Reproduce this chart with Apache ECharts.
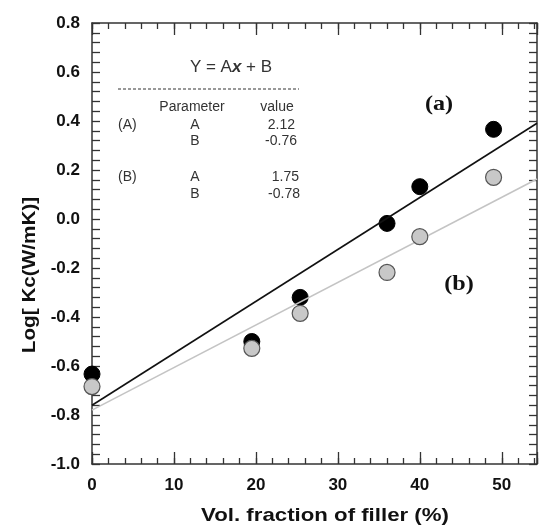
<!DOCTYPE html>
<html>
<head>
<meta charset="utf-8">
<script src="https://cdn.jsdelivr.net/npm/echarts@6/dist/echarts.min.js"></script>
<style>html,body{margin:0;padding:0;background:#fff;}#c{width:542px;height:526px;}</style>
</head>
<body>
<div id="c"></div>
<script>
// Data
const xVals = [0, 19.5, 25.4, 36.0, 40.0, 49.0];
const seriesA = [-0.633, -0.50, -0.32, -0.018, 0.132, 0.366];   // black points (a)
const seriesB = [-0.684, -0.528, -0.385, -0.218, -0.072, 0.170]; // gray points (b)
const fitAX = [0, 54.3];
const fitAY = [-0.76, 0.391];
const fitBX = [0, 54.3];
const fitBY = [-0.78, 0.163];
const xTicks = [0, 10, 20, 30, 40, 50];
const yTicks = [-1.0, -0.8, -0.6, -0.4, -0.2, 0.0, 0.2, 0.4, 0.6, 0.8];
const tableRows = [
  ['(A)', 'A', '2.12'],
  ['', 'B', '-0.76'],
  ['(B)', 'A', '1.75'],
  ['', 'B', '-0.78']
];

const pair = (xs, ys) => xs.map((x, i) => [x, ys[i]]);
const FONT = 'Liberation Sans, Arial, sans-serif';
const frame = '#333';

function xAx(pos, interval, len, showLine, showLabel) {
  return {
    type: 'value', position: pos, min: 0, max: 54.3, interval: interval,
    axisLine: { show: showLine, onZero: false, lineStyle: { color: frame, width: 1.5 } },
    axisTick: { show: true, inside: true, length: len, lineStyle: { color: frame, width: 1.3 } },
    axisLabel: {
      show: showLabel, margin: 13, color: '#111', fontSize: 17, fontWeight: 'bold', fontFamily: FONT,
      formatter: v => xTicks.indexOf(v) >= 0 ? String(v) : ''
    },
    splitLine: { show: false }
  };
}
function yAx(pos, showLabel) {
  return {
    type: 'value', position: pos, min: -1.0, max: 0.8, interval: 0.2,
    axisLine: { show: true, onZero: false, lineStyle: { color: frame, width: 1.5 } },
    axisTick: { show: true, inside: true, length: 8, lineStyle: { color: frame, width: 1.3 } },
    minorTick: { show: true, splitNumber: 5, length: 8, lineStyle: { color: frame, width: 1.3 } },
    axisLabel: {
      show: showLabel, margin: 12, color: '#111', fontSize: 17, fontWeight: 'bold', fontFamily: FONT,
      formatter: v => {
        const t = yTicks.find(k => Math.abs(k - v) < 1e-6);
        return t === undefined ? '' : t.toFixed(1);
      }
    },
    splitLine: { show: false }
  };
}

const chart = echarts.init(document.getElementById('c'), null, { renderer: 'canvas' });

const graphics = [];
// axis titles
graphics.push({
  type: 'text', x: 325, y: 516, scaleX: 1.17,
  style: { text: 'Vol. fraction of filler (%)', font: 'bold 19px ' + FONT, fill: '#111', align: 'center', verticalAlign: 'middle' }
});
graphics.push({
  type: 'text', x: 30, y: 275, rotation: Math.PI / 2, scaleX: 1.09,
  style: { text: 'Log[ Kc(W/mK)]', font: 'bold 19px ' + FONT, fill: '#111', align: 'center', verticalAlign: 'middle' }
});
// equation
graphics.push({
  type: 'text', x: 231, y: 67,
  style: {
    text: '{a|Y = A}{b|x}{a| + B}', align: 'center', verticalAlign: 'middle',
    rich: {
      a: { font: '17px ' + FONT, fill: '#333' },
      b: { font: 'italic bold 17px ' + FONT, fill: '#333' }
    }
  }
});
graphics.push({
  type: 'line', shape: { x1: 118, y1: 89, x2: 299, y2: 89 },
  style: { stroke: '#333', lineWidth: 1, lineDash: [3, 2] }
});
graphics.push({ type: 'text', x: 192, y: 107, style: { text: 'Parameter', font: '14px ' + FONT, fill: '#333', align: 'center', verticalAlign: 'middle' } });
graphics.push({ type: 'text', x: 277, y: 107, style: { text: 'value', font: '14px ' + FONT, fill: '#333', align: 'center', verticalAlign: 'middle' } });
const rowY = [125, 141, 177, 194];
const rowRight = [295, 297, 299, 300];
tableRows.forEach((r, i) => {
  if (r[0]) graphics.push({ type: 'text', x: 118, y: rowY[i], style: { text: r[0], font: '14px ' + FONT, fill: '#333', align: 'left', verticalAlign: 'middle' } });
  graphics.push({ type: 'text', x: 195, y: rowY[i], style: { text: r[1], font: '14px ' + FONT, fill: '#333', align: 'center', verticalAlign: 'middle' } });
  graphics.push({ type: 'text', x: rowRight[i], y: rowY[i], style: { text: r[2], font: '14px ' + FONT, fill: '#333', align: 'right', verticalAlign: 'middle' } });
});
// series labels
graphics.push({ type: 'text', x: 439, y: 105, scaleX: 1.15, style: { text: '(a)', font: 'bold 21px Liberation Serif, Times New Roman, serif', fill: '#111', align: 'center', verticalAlign: 'middle' } });
graphics.push({ type: 'text', x: 459, y: 285, scaleX: 1.15, style: { text: '(b)', font: 'bold 21px Liberation Serif, Times New Roman, serif', fill: '#111', align: 'center', verticalAlign: 'middle' } });

chart.setOption({
  animation: false,
  backgroundColor: '#fff',
  grid: { left: 92, right: 5, top: 23, bottom: 62, containLabel: false },
  xAxis: [
    xAx('bottom', 10, 12, true, true),
    xAx('bottom', 2, 6, false, false),
    xAx('top', 10, 12, true, false),
    xAx('top', 2, 6, false, false)
  ],
  yAxis: [yAx('left', true), yAx('right', false)],
  series: [
    {
      type: 'scatter', xAxisIndex: 0, yAxisIndex: 0, data: pair(xVals, seriesA),
      symbol: 'circle', symbolSize: 16,
      itemStyle: { color: '#000', borderColor: '#000', borderWidth: 1, opacity: 1 }, z: 3
    },
    {
      type: 'line', xAxisIndex: 0, yAxisIndex: 0, data: pair(fitAX, fitAY),
      showSymbol: false, symbol: 'none', lineStyle: { color: '#111', width: 1.6 }, z: 4
    },
    {
      type: 'line', xAxisIndex: 0, yAxisIndex: 0, data: pair(fitBX, fitBY),
      showSymbol: false, symbol: 'none', lineStyle: { color: '#c4c4c4', width: 1.6 }, z: 4
    },
    {
      type: 'scatter', xAxisIndex: 0, yAxisIndex: 0, data: pair(xVals, seriesB),
      symbol: 'circle', symbolSize: 16,
      itemStyle: { color: '#c8c8c8', borderColor: '#555', borderWidth: 1.2, opacity: 1 }, z: 5
    }
  ],
  graphic: graphics
});
</script>
</body>
</html>
